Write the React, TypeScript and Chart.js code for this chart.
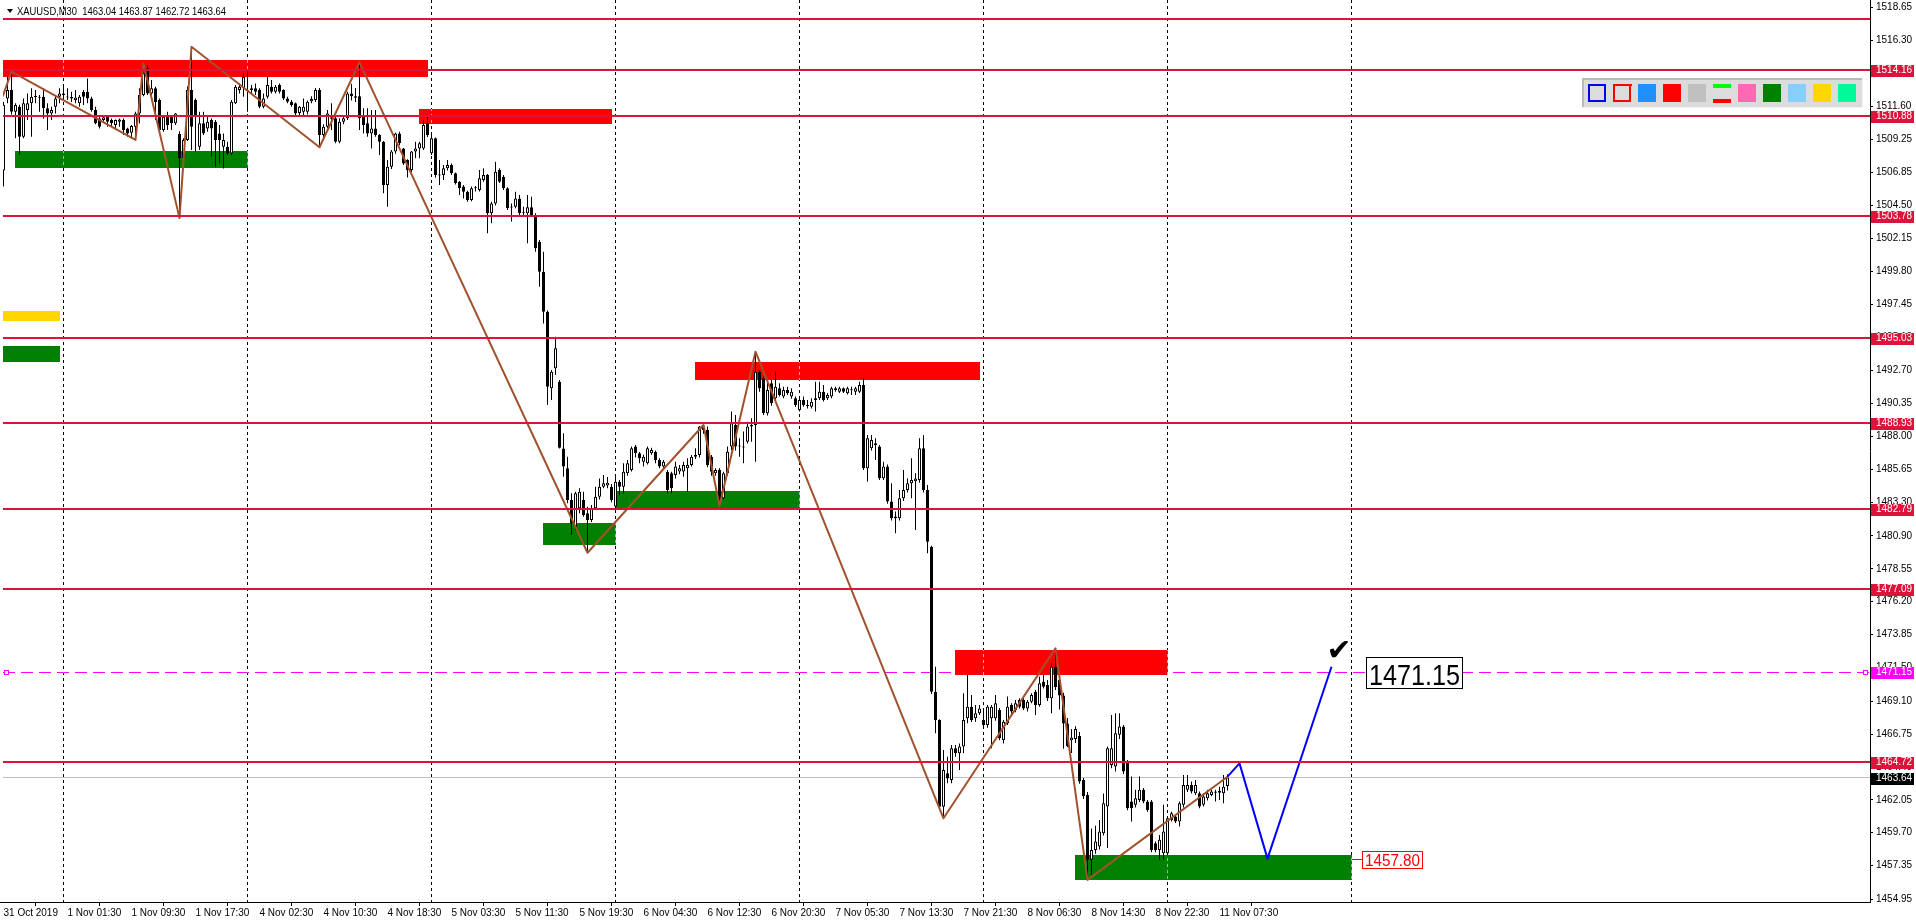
import React, { useEffect, useRef } from "react";
import { Chart, registerables } from "chart.js";

Chart.register(...registerables);

// ---------- header ----------
const symbolName = "XAUUSD,M30";
const headerOHLC = ["1463.04", "1463.87", "1462.72", "1463.64"];

// ---------- candles (bar index 0..306, M30) ----------
const opens = [
  1507.0, 1512.15, 1512.75, 1511.2, 1511.56, 1509.42, 1511.32, 1511.8, 1512.25, 1512.27,
  1512.27, 1511.44, 1511.08, 1511.56, 1512.27, 1512.39, 1512.22, 1512.15, 1512.03, 1511.8,
  1512.63, 1512.63, 1512.15, 1511.32, 1510.72, 1510.61, 1510.84, 1510.61, 1510.25, 1510.49,
  1510.61, 1510.0, 1509.7, 1510.13, 1511.08, 1512.39, 1514.3, 1512.51, 1512.87, 1512.03,
  1509.89, 1510.96, 1510.84, 1510.37, 1509.6, 1507.9, 1509.18, 1512.75, 1512.03, 1508.7,
  1510.37, 1510.0, 1510.61, 1510.49, 1509.65, 1508.7, 1508.7, 1508.22, 1511.8, 1512.75,
  1512.87, 1512.75, 1512.87, 1512.87, 1512.75, 1511.56, 1512.27, 1512.99, 1512.63, 1513.1,
  1512.75, 1512.15, 1511.92, 1511.8, 1511.1, 1511.2, 1511.2, 1511.95, 1512.04, 1512.75,
  1509.54, 1510.13, 1510.8, 1510.73, 1509.06, 1510.49, 1510.73, 1512.5, 1512.3, 1512.3,
  1510.85, 1510.37, 1509.65, 1510.0, 1509.54, 1509.06, 1505.96, 1507.27, 1508.35, 1509.65,
  1508.58, 1507.75, 1507.04, 1508.35, 1508.58, 1508.58, 1510.37, 1508.23, 1509.3, 1506.7,
  1506.68, 1507.16, 1507.4, 1506.8, 1506.2, 1505.85, 1505.49, 1504.89, 1505.73, 1505.61,
  1506.32, 1506.68, 1503.94, 1504.65, 1507.04, 1506.56, 1505.73, 1504.35, 1504.42, 1505.01,
  1503.98, 1503.94, 1504.37, 1503.82, 1501.92, 1499.77, 1496.92, 1491.44, 1492.87, 1491.92,
  1487.15, 1485.73, 1483.46, 1481.56, 1482.87, 1483.46, 1482.51, 1482.04, 1482.87, 1483.7,
  1484.42, 1484.5, 1484.42, 1483.0, 1484.77, 1484.42, 1485.37, 1485.61, 1487.28, 1486.8,
  1486.2, 1486.09, 1486.8, 1486.92, 1486.32, 1485.85, 1485.49, 1485.37, 1485.25, 1485.5,
  1485.5, 1485.73, 1485.97, 1486.56, 1486.68, 1488.71, 1488.47, 1486.56, 1485.37, 1485.61,
  1483.59, 1485.37, 1487.28, 1488.82, 1487.28, 1487.25, 1487.63, 1488.71, 1488.82, 1492.63,
  1492.16, 1489.66, 1491.8, 1490.73, 1491.44, 1490.85, 1491.32, 1490.85, 1490.73, 1489.9,
  1490.61, 1490.2, 1490.13, 1490.61, 1490.73, 1491.2, 1490.73, 1490.85, 1491.44, 1491.2,
  1491.44, 1491.09, 1491.32, 1491.2, 1491.2, 1491.68, 1485.73, 1487.16, 1487.52, 1487.28,
  1485.01, 1485.85, 1483.35, 1482.28, 1482.16, 1483.59, 1484.18, 1484.66, 1484.8, 1484.89,
  1487.16, 1484.18, 1480.13, 1469.77, 1467.75, 1461.56, 1463.94, 1463.46, 1465.73, 1465.37,
  1465.85, 1467.87, 1468.7, 1467.87, 1468.23, 1467.75, 1467.39, 1467.87, 1467.87, 1468.47,
  1466.32, 1467.51, 1468.82, 1468.47, 1469.18, 1469.18, 1468.58, 1469.06, 1469.77, 1468.82,
  1470.49, 1470.25, 1469.3, 1471.56, 1470.6, 1469.5, 1467.5, 1466.3, 1466.4, 1466.6,
  1463.47, 1462.4, 1457.76, 1458.47, 1458.71, 1459.66, 1461.57, 1464.54, 1464.42, 1466.69,
  1467.28, 1464.78, 1461.92, 1461.7, 1462.04, 1462.76, 1461.92, 1461.92, 1458.95, 1458.47,
  1458.23, 1458.23, 1460.61, 1460.85, 1460.5, 1461.69, 1462.76, 1463.11, 1462.52, 1462.52,
  1461.69, 1462.16, 1462.4, 1462.55, 1462.55, 1462.52, 1463.04,
];
const highs = [
  1511.9, 1513.7, 1514.06, 1511.8, 1511.7, 1512.15, 1512.5, 1512.87, 1512.75, 1512.4,
  1512.87, 1511.8, 1511.56, 1512.4, 1512.87, 1513.1, 1512.87, 1512.63, 1512.75, 1512.4,
  1512.75, 1513.58, 1512.27, 1511.56, 1510.84, 1510.96, 1510.96, 1510.72, 1510.65, 1510.72,
  1510.72, 1510.05, 1510.25, 1511.2, 1512.87, 1514.65, 1514.5, 1513.46, 1512.99, 1512.15,
  1510.96, 1511.2, 1510.96, 1511.1, 1509.8, 1509.3, 1513.0, 1515.84, 1512.15, 1511.2,
  1511.2, 1510.84, 1510.72, 1510.61, 1510.25, 1509.65, 1509.06, 1512.03, 1513.1, 1513.22,
  1513.94, 1514.06, 1513.1, 1513.22, 1512.87, 1512.51, 1513.7, 1513.46, 1513.1, 1513.22,
  1512.8, 1512.27, 1512.03, 1511.85, 1511.6, 1512.15, 1512.0, 1512.3, 1512.9, 1512.9,
  1510.3, 1511.32, 1511.8, 1510.9, 1510.73, 1510.9, 1512.63, 1513.2, 1512.9, 1514.73,
  1511.44, 1511.44, 1511.32, 1511.32, 1509.6, 1509.1, 1507.75, 1508.46, 1509.7, 1509.77,
  1508.6, 1507.8, 1508.4, 1509.06, 1509.06, 1510.6, 1510.88, 1509.65, 1509.35, 1507.75,
  1507.4, 1507.75, 1507.5, 1506.85, 1506.25, 1505.96, 1505.55, 1505.85, 1505.9, 1507.04,
  1507.16, 1506.75, 1504.77, 1507.63, 1507.16, 1506.68, 1505.8, 1504.65, 1505.49, 1505.25,
  1504.42, 1505.25, 1505.13, 1503.94, 1502.04, 1501.2, 1497.0, 1492.75, 1495.13, 1492.04,
  1488.23, 1486.56, 1483.94, 1484.06, 1484.3, 1484.06, 1482.99, 1483.1, 1484.42, 1485.0,
  1485.25, 1485.1, 1484.6, 1485.13, 1484.9, 1486.09, 1486.32, 1487.28, 1487.4, 1486.9,
  1486.7, 1487.28, 1487.2, 1487.0, 1486.44, 1486.32, 1485.61, 1485.49, 1486.2, 1485.97,
  1486.2, 1486.44, 1486.68, 1487.16, 1488.75, 1488.82, 1488.71, 1486.68, 1485.73, 1485.73,
  1485.49, 1487.28, 1489.78, 1489.54, 1487.87, 1488.35, 1489.06, 1489.3, 1494.06, 1492.75,
  1492.28, 1491.92, 1492.04, 1492.63, 1491.8, 1491.56, 1491.56, 1491.44, 1490.85, 1490.73,
  1490.85, 1490.61, 1490.73, 1491.92, 1491.92, 1491.68, 1491.1, 1491.56, 1491.56, 1491.56,
  1491.5, 1491.56, 1491.56, 1491.56, 1491.92, 1492.16, 1488.1, 1488.1, 1487.87, 1487.4,
  1486.2, 1486.0, 1484.66, 1482.64, 1484.18, 1485.61, 1485.0, 1486.44, 1485.37, 1487.87,
  1488.11, 1484.54, 1480.2, 1471.56, 1467.8, 1465.6, 1465.13, 1465.97, 1465.97, 1466.08,
  1469.66, 1470.97, 1469.54, 1468.82, 1468.82, 1468.47, 1468.82, 1468.82, 1469.54, 1468.6,
  1467.75, 1469.42, 1468.94, 1469.18, 1469.3, 1469.3, 1469.18, 1469.66, 1469.9, 1470.85,
  1470.97, 1470.6, 1471.8, 1472.87, 1471.0, 1469.7, 1467.9, 1467.1, 1467.3, 1466.9,
  1463.6, 1462.6, 1460.0, 1460.2, 1460.61, 1462.5, 1465.85, 1468.11, 1468.23, 1468.23,
  1467.4, 1464.9, 1463.71, 1462.76, 1463.71, 1462.9, 1462.04, 1462.04, 1459.07, 1459.54,
  1461.69, 1460.85, 1461.2, 1461.0, 1461.92, 1463.83, 1463.83, 1463.35, 1463.47, 1462.64,
  1462.52, 1462.76, 1462.76, 1462.76, 1462.99, 1463.83, 1463.87,
];
const lows = [
  1505.85, 1511.8, 1511.0, 1509.3, 1508.1, 1509.3, 1510.6, 1509.42, 1511.8, 1511.2,
  1510.7, 1509.9, 1510.6, 1511.08, 1511.8, 1512.03, 1512.03, 1511.9, 1511.8, 1511.56,
  1511.68, 1511.8, 1511.2, 1510.3, 1510.0, 1510.49, 1510.13, 1510.13, 1509.89, 1510.13,
  1509.54, 1509.42, 1509.3, 1509.18, 1510.37, 1512.3, 1512.39, 1512.27, 1510.61, 1509.85,
  1509.77, 1509.89, 1509.89, 1510.25, 1503.6, 1507.6, 1509.1, 1508.46, 1508.35, 1508.46,
  1509.54, 1509.77, 1507.99, 1507.27, 1507.51, 1507.15, 1508.1, 1508.1, 1511.75, 1512.5,
  1512.27, 1511.2, 1512.4, 1512.39, 1511.44, 1511.44, 1512.15, 1512.51, 1512.51, 1512.51,
  1512.03, 1511.8, 1511.56, 1510.96, 1510.84, 1510.96, 1511.0, 1511.8, 1511.9, 1508.66,
  1509.18, 1510.0, 1509.9, 1508.94, 1508.94, 1510.3, 1510.6, 1512.0, 1511.9, 1509.9,
  1509.65, 1509.42, 1508.58, 1509.42, 1508.1, 1505.37, 1504.42, 1507.1, 1508.2, 1508.8,
  1507.4, 1506.5, 1506.9, 1507.87, 1507.87, 1508.46, 1509.4, 1508.1, 1506.5, 1505.96,
  1506.32, 1507.0, 1506.68, 1506.0, 1505.25, 1505.0, 1504.77, 1504.8, 1505.5, 1505.5,
  1506.2, 1502.51, 1503.23, 1504.5, 1506.1, 1505.6, 1504.18, 1503.35, 1504.3, 1503.82,
  1503.8, 1501.8, 1503.7, 1501.2, 1498.7, 1496.08, 1490.25, 1490.6, 1492.39, 1487.15,
  1485.13, 1483.23, 1480.96, 1481.32, 1482.51, 1482.27, 1479.7, 1481.9, 1482.8, 1483.5,
  1484.3, 1484.3, 1483.3, 1482.9, 1483.8, 1483.94, 1485.2, 1485.5, 1486.5, 1486.09,
  1485.85, 1486.0, 1486.7, 1486.09, 1485.73, 1485.7, 1483.94, 1483.94, 1485.0, 1485.3,
  1485.13, 1484.06, 1485.85, 1486.4, 1486.5, 1488.2, 1485.8, 1485.2, 1485.2, 1483.04,
  1483.5, 1485.2, 1487.0, 1487.0, 1486.56, 1486.09, 1487.5, 1487.63, 1486.2, 1491.2,
  1489.54, 1489.5, 1490.2, 1490.61, 1490.85, 1490.73, 1490.97, 1490.7, 1490.1, 1489.78,
  1490.13, 1490.0, 1490.0, 1489.78, 1490.6, 1490.5, 1490.6, 1490.73, 1491.2, 1491.1,
  1491.1, 1491.0, 1490.97, 1490.97, 1491.1, 1485.61, 1484.78, 1487.0, 1486.32, 1484.9,
  1484.9, 1483.2, 1482.0, 1481.09, 1482.0, 1483.4, 1484.0, 1483.59, 1481.32, 1484.7,
  1484.0, 1479.66, 1469.6, 1466.8, 1461.4, 1460.73, 1463.23, 1463.23, 1465.13, 1464.18,
  1465.37, 1467.51, 1467.6, 1467.63, 1468.1, 1467.2, 1467.2, 1465.73, 1467.7, 1466.3,
  1466.08, 1467.4, 1468.2, 1468.3, 1468.58, 1468.47, 1468.35, 1468.94, 1468.11, 1468.7,
  1470.0, 1469.1, 1468.23, 1469.9, 1468.5, 1465.7, 1465.8, 1465.4, 1466.1, 1463.2,
  1462.1, 1456.33, 1456.7, 1458.2, 1458.5, 1459.5, 1458.6, 1464.3, 1464.07, 1466.4,
  1463.9, 1461.3, 1460.5, 1461.5, 1461.9, 1461.8, 1461.2, 1458.3, 1458.3, 1457.76,
  1457.76, 1458.1, 1460.5, 1460.4, 1460.14, 1461.5, 1462.6, 1462.5, 1462.4, 1461.45,
  1461.57, 1462.0, 1462.3, 1461.92, 1462.04, 1461.8, 1462.72,
];
const closes = [
  1511.7, 1512.75, 1511.2, 1511.68, 1509.42, 1511.8, 1511.8, 1512.27, 1512.3, 1512.2,
  1511.44, 1511.08, 1511.32, 1512.15, 1512.51, 1512.51, 1512.25, 1512.27, 1512.22, 1512.27,
  1512.27, 1512.15, 1511.32, 1510.37, 1510.13, 1510.8, 1510.49, 1510.37, 1510.61, 1510.65,
  1509.89, 1509.65, 1510.18, 1511.08, 1512.39, 1513.94, 1512.51, 1512.87, 1511.9, 1509.89,
  1510.84, 1510.25, 1510.37, 1511.08, 1507.9, 1509.18, 1512.75, 1510.13, 1510.84, 1510.37,
  1509.65, 1510.49, 1510.0, 1509.18, 1509.18, 1509.18, 1508.22, 1511.92, 1512.99, 1512.99,
  1513.7, 1512.7, 1512.75, 1512.63, 1511.56, 1512.15, 1513.1, 1512.63, 1512.99, 1512.63,
  1512.15, 1511.92, 1511.68, 1511.08, 1511.56, 1511.56, 1511.92, 1512.1, 1512.75, 1509.54,
  1510.13, 1511.08, 1510.7, 1509.06, 1510.49, 1510.73, 1512.51, 1512.3, 1512.2, 1510.73,
  1510.25, 1509.65, 1510.0, 1509.54, 1509.06, 1505.96, 1507.27, 1508.35, 1509.65, 1508.94,
  1507.51, 1507.04, 1508.35, 1508.58, 1508.94, 1510.25, 1509.54, 1509.3, 1506.68, 1506.65,
  1507.16, 1507.4, 1506.8, 1506.1, 1505.73, 1505.49, 1504.89, 1505.73, 1505.75, 1506.44,
  1506.68, 1503.94, 1504.65, 1506.92, 1506.2, 1505.73, 1504.3, 1504.37, 1505.01, 1503.94,
  1504.0, 1504.37, 1503.82, 1501.44, 1499.77, 1496.92, 1491.56, 1492.63, 1494.3, 1487.2,
  1485.85, 1483.46, 1481.8, 1483.94, 1484.06, 1482.39, 1482.04, 1482.87, 1483.7, 1484.42,
  1484.66, 1484.7, 1483.47, 1484.77, 1484.42, 1485.49, 1486.09, 1487.16, 1486.8, 1486.44,
  1486.56, 1487.16, 1487.04, 1486.32, 1485.85, 1486.2, 1484.18, 1484.3, 1485.85, 1485.73,
  1485.97, 1485.97, 1486.56, 1486.68, 1488.71, 1488.47, 1485.97, 1485.49, 1485.6, 1483.47,
  1485.37, 1486.92, 1488.94, 1487.28, 1487.3, 1487.22, 1488.71, 1488.82, 1492.63, 1491.44,
  1489.66, 1491.32, 1490.37, 1491.56, 1490.97, 1491.32, 1491.09, 1491.2, 1490.25, 1490.61,
  1490.25, 1490.18, 1490.49, 1490.73, 1491.2, 1490.61, 1490.97, 1491.44, 1491.32, 1491.44,
  1491.2, 1491.44, 1491.3, 1491.44, 1491.68, 1485.73, 1487.87, 1487.75, 1487.4, 1485.01,
  1485.85, 1483.35, 1482.16, 1482.16, 1483.59, 1484.18, 1484.66, 1484.89, 1485.0, 1487.16,
  1484.18, 1480.49, 1469.77, 1467.75, 1461.56, 1464.18, 1463.58, 1465.73, 1465.37, 1465.85,
  1467.75, 1468.7, 1467.75, 1468.23, 1468.58, 1467.39, 1468.7, 1468.7, 1468.94, 1466.44,
  1467.63, 1468.7, 1468.35, 1468.94, 1468.7, 1468.58, 1469.06, 1469.54, 1468.82, 1470.37,
  1470.13, 1469.3, 1471.56, 1470.1, 1469.5, 1467.5, 1465.9, 1466.5, 1467.1, 1463.35,
  1462.3, 1457.76, 1458.47, 1459.07, 1459.78, 1461.8, 1465.73, 1465.73, 1466.8, 1467.28,
  1464.07, 1461.45, 1461.45, 1462.16, 1462.76, 1461.92, 1461.33, 1458.47, 1458.47, 1459.19,
  1459.78, 1460.73, 1461.09, 1460.5, 1461.8, 1463.11, 1463.11, 1462.64, 1463.11, 1461.57,
  1462.28, 1462.52, 1462.64, 1462.64, 1462.7, 1462.99, 1463.64,
];

// ---------- axes ----------
const timeLabels = [
  "31 Oct 2019", "1 Nov 01:30", "1 Nov 09:30", "1 Nov 17:30", "4 Nov 02:30",
  "4 Nov 10:30", "4 Nov 18:30", "5 Nov 03:30", "5 Nov 11:30", "5 Nov 19:30",
  "6 Nov 04:30", "6 Nov 12:30", "6 Nov 20:30", "7 Nov 05:30", "7 Nov 13:30",
  "7 Nov 21:30", "8 Nov 06:30", "8 Nov 14:30", "8 Nov 22:30", "11 Nov 07:30",
];
const barsPerTimeLabel = 16;
const dayStartBars = [15, 61, 107, 153, 199, 245, 291, 337];
const priceTickLabels = [
  "1518.65", "1516.30", "1513.95", "1511.60", "1509.25", "1506.85", "1504.50",
  "1502.15", "1499.80", "1497.45", "1495.10", "1492.70", "1490.35", "1488.00",
  "1485.65", "1483.30", "1480.90", "1478.55", "1476.20", "1473.85", "1471.50",
  "1469.10", "1466.75", "1464.40", "1462.05", "1459.70", "1457.35", "1454.95",
];
const priceMin = 1454.75;
const priceMax = 1519.18;
const barMin = -0.125;
const barMax = 466.625;

// ---------- objects ----------
const crimsonLevels = [1517.84, 1514.16, 1510.88, 1503.78, 1495.03, 1488.93, 1482.79, 1477.09, 1464.72];
const labeledCrimsonLevels = [1514.16, 1510.88, 1503.78, 1495.03, 1488.93, 1482.79, 1477.09, 1464.72];
const targetLevel = 1471.15;
const bidLevel = 1463.64;

const zoneFromBar = [-1, 104, 173, 238, 3, 135, 153, 268, -1, -1];
const zoneToBar = [106, 152, 244, 291, 61, 153, 199, 337, 14, 14];
const zoneHigh = [1514.89, 1511.39, 1493.32, 1472.76, 1508.39, 1481.8, 1484.11, 1458.11, 1494.46, 1497.0];
const zoneLow = [1513.7, 1510.32, 1492.04, 1470.95, 1507.2, 1480.25, 1482.82, 1456.33, 1493.3, 1496.23];
const zoneColor = ["#FF0000", "#FF0000", "#FF0000", "#FF0000", "#008000", "#008000", "#008000", "#008000", "#008000", "#FFD700"];

const zigzagBars = [-0.2, 2, 33, 35, 44, 47, 79, 89, 146, 175, 179, 188, 235, 263, 271, 306];
const zigzagPrices = [1512.3, 1514.06, 1509.18, 1514.65, 1503.6, 1515.84, 1508.66, 1514.73, 1479.7, 1488.82, 1483.04, 1494.06, 1460.73, 1472.87, 1456.33, 1463.7];

const projectionBars = [306, 309, 316, 332];
const projectionPrices = [1463.7, 1464.65, 1457.85, 1471.55];

const targetText = "1471.15";
const targetTextBar = 340.6;
const supportText = "1457.80";
const supportLevel = 1457.8;
const supportTextBar = 339.6;
const supportZoneEndBar = 337;
const checkBar = 333.9;
const checkPrice = 1472.6;

const toolColors = ["blueFrame", "redFrame", "#1E90FF", "#FF0000", "#C0C0C0", "lines", "#FF69B4", "#008000", "#87CEFA", "#FFD700", "#00FA9A"];

const FONT = '"Liberation Sans", Arial, sans-serif';

function fitText(ctx: CanvasRenderingContext2D, text: string, x: number, y: number, font: string, maxW: number) {
  ctx.font = font;
  const w = ctx.measureText(text).width;
  const s = w > maxW ? maxW / w : 1;
  ctx.save();
  ctx.translate(x, y);
  ctx.scale(s, 1);
  ctx.fillText(text, 0, 0);
  ctx.restore();
}

const overlayPlugin = {
  id: "mt4Overlay",
  beforeDraw(chart: any) {
    const { ctx, width, height } = chart;
    ctx.save();
    ctx.fillStyle = "#FFFFFF";
    ctx.fillRect(0, 0, width, height);
    ctx.restore();
  },
  beforeDatasetsDraw(chart: any) {
    const { ctx, chartArea: a, scales } = chart;
    const xs = scales.x;
    const ys = scales.y;
    ctx.save();
    ctx.beginPath();
    ctx.rect(a.left, a.top, a.right - a.left, a.bottom - a.top);
    ctx.clip();

    // bid line
    const yb = Math.floor(ys.getPixelForValue(bidLevel));
    ctx.fillStyle = "#C0C0C0";
    ctx.fillRect(a.left, yb, a.right - a.left, 1);

    // target dashed line
    const yt = Math.floor(ys.getPixelForValue(targetLevel)) + 0.5;
    ctx.strokeStyle = "#FF00FF";
    ctx.lineWidth = 1;
    ctx.setLineDash([12, 6]);
    ctx.beginPath();
    ctx.moveTo(a.left, yt);
    ctx.lineTo(a.right, yt);
    ctx.stroke();
    ctx.setLineDash([]);

    // zones
    for (let i = 0; i < zoneFromBar.length; i++) {
      const x1 = Math.floor(xs.getPixelForValue(zoneFromBar[i]));
      const x2 = Math.floor(xs.getPixelForValue(zoneToBar[i])) + 1;
      const y1 = Math.round(ys.getPixelForValue(zoneHigh[i]));
      const y2 = Math.round(ys.getPixelForValue(zoneLow[i]));
      ctx.fillStyle = zoneColor[i];
      ctx.fillRect(x1, y1, x2 - x1, y2 - y1);
    }

    // day separators (inverted over objects)
    ctx.globalCompositeOperation = "difference";
    ctx.strokeStyle = "#FFFFFF";
    ctx.lineWidth = 1;
    ctx.setLineDash([3, 3]);
    for (const b of dayStartBars) {
      const px = Math.floor(xs.getPixelForValue(b)) + 0.5;
      ctx.beginPath();
      ctx.moveTo(px, a.top);
      ctx.lineTo(px, a.bottom);
      ctx.stroke();
    }
    ctx.restore();
  },
  afterDatasetsDraw(chart: any) {
    const { ctx, chartArea: a, scales } = chart;
    const xs = scales.x;
    const ys = scales.y;

    ctx.save();
    ctx.beginPath();
    ctx.rect(a.left, a.top, a.right - a.left, a.bottom - a.top);
    ctx.clip();

    // horizontal levels
    ctx.fillStyle = "#DC143C";
    for (const lv of crimsonLevels) {
      const py = Math.round(ys.getPixelForValue(lv));
      ctx.fillRect(a.left, py - 1, a.right - a.left, 2);
    }

    // magenta end markers of target line
    const ytm = Math.floor(ys.getPixelForValue(targetLevel));
    ctx.strokeStyle = "#FF00FF";
    ctx.lineWidth = 1;
    ctx.fillStyle = "#FFFFFF";
    ctx.fillRect(a.left + 1, ytm - 2, 5, 5);
    ctx.strokeRect(a.left + 1.5, ytm - 1.5, 4, 4);
    ctx.fillRect(a.right - 7, ytm - 2, 5, 5);
    ctx.strokeRect(a.right - 6.5, ytm - 1.5, 4, 4);

    // support label
    const sy = Math.round(ys.getPixelForValue(supportLevel));
    const sx0 = Math.floor(xs.getPixelForValue(supportZoneEndBar)) + 1;
    const sx = Math.round(xs.getPixelForValue(supportTextBar));
    ctx.fillStyle = "#FF0000";
    ctx.fillRect(sx0, sy, sx - sx0, 1);
    ctx.fillStyle = "#FFFFFF";
    ctx.fillRect(sx, sy - 8, 61, 18);
    ctx.strokeStyle = "#FF0000";
    ctx.strokeRect(sx + 0.5, sy - 7.5, 60, 17);
    ctx.fillStyle = "#FF0000";
    ctx.textAlign = "left";
    ctx.textBaseline = "alphabetic";
    fitText(ctx, supportText, sx + 3, sy + 7, `16px ${FONT}`, 55);

    // target label
    const ty = Math.round(ys.getPixelForValue(targetLevel));
    const tx = Math.round(xs.getPixelForValue(targetTextBar));
    ctx.fillStyle = "#FFFFFF";
    ctx.fillRect(tx, ty - 15, 97, 32);
    ctx.strokeStyle = "#000000";
    ctx.strokeRect(tx + 0.5, ty - 14.5, 96, 31);
    ctx.fillStyle = "#000000";
    fitText(ctx, targetText, tx + 3, ty + 13, `30px ${FONT}`, 91);

    // check mark
    ctx.fillStyle = "#000000";
    ctx.font = `30px "DejaVu Sans", sans-serif`;
    ctx.textAlign = "center";
    ctx.textBaseline = "middle";
    ctx.fillText("\u2714", xs.getPixelForValue(checkBar), ys.getPixelForValue(checkPrice));

    // header
    ctx.textAlign = "left";
    ctx.textBaseline = "alphabetic";
    ctx.beginPath();
    ctx.moveTo(a.left + 4, 9);
    ctx.lineTo(a.left + 10, 9);
    ctx.lineTo(a.left + 7, 13);
    ctx.closePath();
    ctx.fill();
    fitText(ctx, `${symbolName}  ${headerOHLC.join(" ")}`, a.left + 14, 15, `11px ${FONT}`, 209);

    // tool palette
    const bx = a.right - 288;
    const by = 78;
    ctx.fillStyle = "#F4F4F4";
    ctx.fillRect(bx, by, 281, 30);
    ctx.fillStyle = "#B9B9B9";
    ctx.fillRect(bx, by, 280, 2);
    ctx.fillRect(bx, by, 2, 29);
    ctx.fillStyle = "#DCDCDC";
    ctx.fillRect(bx + 2, by + 2, 278, 27);
    toolColors.forEach((c, i) => {
      const ix = bx + 6 + i * 25;
      const iy = by + 6;
      if (c === "blueFrame" || c === "redFrame") {
        ctx.strokeStyle = c === "blueFrame" ? "#0000FF" : "#FF0000";
        ctx.lineWidth = 2;
        ctx.strokeRect(ix + 1, iy + 1, 16, 16);
        if (c === "redFrame") {
          ctx.fillStyle = "#FF0000";
          ctx.fillRect(ix + 3, iy, 16, 2);
        }
      } else if (c === "lines") {
        ctx.fillStyle = "#00FF00";
        ctx.fillRect(ix, iy, 18, 4);
        ctx.fillStyle = "#FF0000";
        ctx.fillRect(ix, iy + 15, 18, 4);
      } else {
        ctx.fillStyle = c;
        ctx.fillRect(ix, iy, 18, 18);
      }
    });
    ctx.restore();

    // price labels on the axis
    ctx.save();
    ctx.font = `10px ${FONT}`;
    ctx.textAlign = "left";
    ctx.textBaseline = "middle";
    const axisLabel = (v: number, bg: string) => {
      const py = Math.round(ys.getPixelForValue(v));
      ctx.fillStyle = bg;
      ctx.fillRect(a.right + 1, py - 5, 43, 12);
      ctx.fillStyle = "#FFFFFF";
      ctx.fillText(v.toFixed(2), a.right + 6, py + 0.5);
    };
    for (const lv of labeledCrimsonLevels) axisLabel(lv, "#DC143C");
    axisLabel(targetLevel, "#FF00FF");
    axisLabel(bidLevel, "#000000");
    // bottom border continuation
    ctx.fillStyle = "#000000";
    ctx.fillRect(0, a.bottom, a.left, 1);
    ctx.restore();
  },
};

export default function App() {
  const canvasRef = useRef<HTMLCanvasElement | null>(null);

  useEffect(() => {
    const canvas = canvasRef.current;
    if (!canvas) return;

    const bodies = opens.map((o, i) => ({ x: i, y: [o, closes[i]] }));
    const wicks = highs.map((h, i) => ({
      x: i,
      y: [Math.min(lows[i], opens[i], closes[i]), Math.max(h, opens[i], closes[i])],
    }));
    const bodyColors = opens.map((o, i) => (closes[i] >= o ? "#FFFFFF" : "#000000"));
    const zigzag = zigzagBars.map((b, i) => ({ x: b, y: zigzagPrices[i] }));
    const projection = projectionBars.map((b, i) => ({ x: b, y: projectionPrices[i] }));

    const chart = new Chart(canvas, {
      type: "bar",
      data: {
        datasets: [
          {
            type: "line",
            label: "projection",
            data: projection as any,
            borderColor: "#0000FF",
            borderWidth: 2,
            pointRadius: 0,
            pointHoverRadius: 0,
            tension: 0,
            fill: false,
            borderJoinStyle: "round",
            order: -1,
          } as any,
          {
            type: "line",
            label: "zigzag",
            data: zigzag as any,
            borderColor: "#A0522D",
            borderWidth: 2,
            pointRadius: 0,
            pointHoverRadius: 0,
            tension: 0,
            fill: false,
            borderJoinStyle: "round",
            order: 0,
          } as any,
          {
            type: "bar",
            label: "bodies",
            data: bodies as any,
            backgroundColor: bodyColors,
            borderColor: "#000000",
            borderWidth: 1,
            borderSkipped: false,
            grouped: false,
            categoryPercentage: 1,
            barPercentage: 1,
            maxBarThickness: 3,
            minBarLength: 1,
            inflateAmount: 0,
            order: 1,
          } as any,
          {
            type: "bar",
            label: "wicks",
            data: wicks as any,
            backgroundColor: "#000000",
            borderWidth: 0,
            grouped: false,
            categoryPercentage: 1,
            barPercentage: 1,
            maxBarThickness: 1,
            minBarLength: 1,
            inflateAmount: 0,
            order: 2,
          } as any,
        ],
      },
      options: {
        responsive: false,
        maintainAspectRatio: false,
        devicePixelRatio: 1,
        animation: false,
        events: [],
        layout: { padding: { left: 3, right: 0, top: 0, bottom: 0 }, autoPadding: false } as any,
        plugins: {
          legend: { display: false },
          tooltip: { enabled: false },
          title: { display: false },
        },
        scales: {
          x: {
            type: "linear",
            position: "bottom",
            min: barMin,
            max: barMax,
            offset: false,
            afterBuildTicks: (s: any) => {
              s.ticks = timeLabels.map((_, i) => ({ value: i * barsPerTimeLabel }));
            },
            afterFit: (s: any) => {
              s.height = 21;
              s.paddingLeft = 0;
              s.paddingRight = 0;
            },
            ticks: {
              autoSkip: false,
              maxRotation: 0,
              minRotation: 0,
              align: "start",
              padding: 1,
              color: "#000000",
              font: { family: FONT, size: 10 },
              callback: (_v: any, i: number) => timeLabels[i] ?? "",
            },
            grid: { drawOnChartArea: false, drawTicks: true, tickLength: 4, color: "#000000", tickColor: "#000000" },
            border: { display: true, color: "#000000", width: 1 },
          } as any,
          y: {
            type: "linear",
            position: "right",
            min: priceMin,
            max: priceMax,
            afterBuildTicks: (s: any) => {
              s.ticks = priceTickLabels.map((t) => ({ value: parseFloat(t) }));
            },
            afterFit: (s: any) => {
              s.width = 46;
              s.paddingTop = 0;
              s.paddingBottom = 0;
            },
            ticks: {
              autoSkip: false,
              padding: 3,
              color: "#000000",
              font: { family: FONT, size: 10 },
              callback: (_v: any, i: number) => priceTickLabels[i] ?? "",
            },
            grid: { drawOnChartArea: false, drawTicks: true, tickLength: 3, color: "#000000", tickColor: "#000000" },
            border: { display: true, color: "#000000", width: 1 },
          } as any,
        },
      },
      plugins: [overlayPlugin as any],
    });

    return () => {
      chart.destroy();
    };
  }, []);

  return (
    <div style={{ position: "fixed", left: 0, top: 0, width: 1916, height: 923, background: "#FFFFFF" }}>
      <canvas ref={canvasRef} width={1916} height={923} style={{ display: "block", width: 1916, height: 923 }} />
    </div>
  );
}
